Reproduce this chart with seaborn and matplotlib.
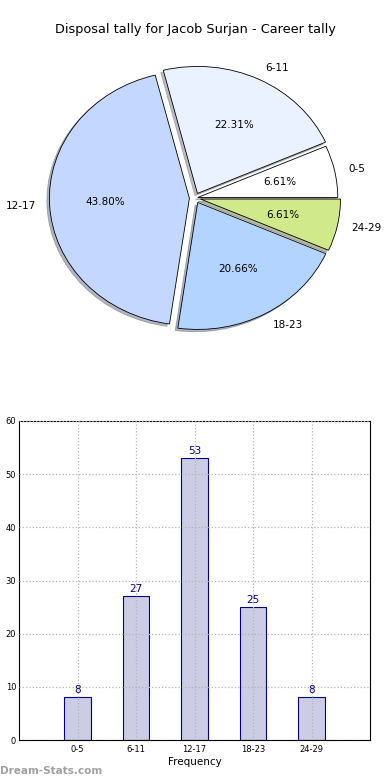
import matplotlib
matplotlib.use('Agg')
import matplotlib.pyplot as plt
import seaborn as sns
import pandas as pd

# data
categorias = ['0-5', '6-11', '12-17', '18-23', '24-29']
contagens = [8, 27, 53, 25, 8]
cores_pie = ['#ffffff', '#eaf2ff', '#c4d8ff', '#b3d4ff', '#cfe98b']
titulo = 'Disposal tally for Jacob Surjan - Career tally'

sns.set_style('white')
plt.rcParams['font.family'] = ['DejaVu Sans']
plt.rcParams['text.color'] = 'black'
plt.rcParams['axes.labelcolor'] = 'black'
plt.rcParams['xtick.color'] = 'black'
plt.rcParams['ytick.color'] = 'black'

fig = plt.figure(figsize=(3.9, 7.8), dpi=100)

# pie (ligeiramente achatado como no original)
ax1 = fig.add_axes([45 / 390, 432 / 780, 300 / 390, 300 / 780])
ax1.pie(contagens, labels=categorias, colors=cores_pie, autopct='%1.2f%%',
        explode=[0.02, 0.04, 0.04, 0.04, 0.04],
        shadow={'ox': -0.013, 'oy': -0.013, 'shade': 0.5}, startangle=0,
        wedgeprops={'edgecolor': 'black', 'linewidth': 0.6},
        textprops={'fontsize': 7.5})
ax1.set_aspect('auto')
ax1.set_xlim(-150 / 140, 150 / 140)
ax1.set_ylim(-150 / 127, 150 / 127)
fig.text(0.5, 1 - 30 / 780, titulo, ha='center', va='center', fontsize=9.3)

# bar
df = pd.DataFrame({'faixa': categorias, 'freq': contagens})
ax2 = fig.add_axes([19 / 390, 40 / 780, 351 / 390, 319 / 780])
sns.barplot(data=df, x='faixa', y='freq', ax=ax2, width=0.45,
            color=(0.8, 0.8, 0.894), edgecolor='navy', linewidth=0.8, saturation=1)
for i, v in enumerate(contagens):
    ax2.text(i, v + 0.4, str(v), ha='center', va='bottom', color='navy', fontsize=7.5)
ax2.set_xlim(-1, 5)
ax2.set_ylim(0, 60)
ax2.set_yticks(range(0, 61, 10))
ax2.tick_params(axis='both', labelsize=6, direction='in', length=3)
ax2.tick_params(axis='y', pad=2)
ax2.grid(True, linestyle=':', color='#b5b5b5', linewidth=0.9)
ax2.set_axisbelow(False)
ax2.set_xlabel('Frequency', fontsize=7.5, labelpad=2)
ax2.set_ylabel('')
for s in ax2.spines.values():
    s.set_color('black')
    s.set_linewidth(0.8)

fig.text(0.0, 1 - 771 / 780, 'Dream-Stats.com', ha='left', va='center',
         fontsize=7.5, color='#a0a0a0', fontweight='bold')

plt.savefig('out.png', dpi=100)
